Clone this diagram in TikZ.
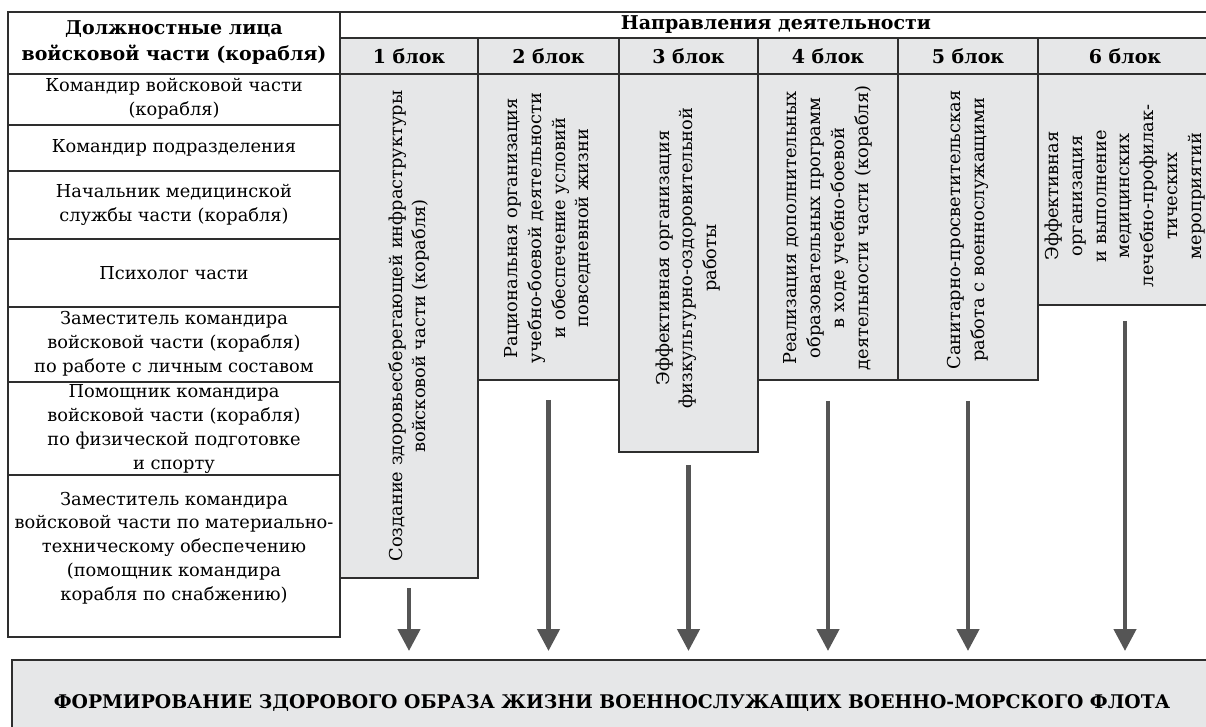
\documentclass[tikz,border=0pt]{standalone}
\usepackage{fontspec}
\setmainfont{DejaVu Serif}
\usetikzlibrary{arrows.meta}
\definecolor{boxgray}{HTML}{E6E7E8}
\definecolor{linegray}{HTML}{2E2E2E}
\definecolor{arrowgray}{HTML}{555555}

\begin{document}
\begin{tikzpicture}[x=0.5pt,y=-0.5pt,
	frame/.style={draw=linegray,line width=1pt},
	rowtext/.style={align=center,font=\fontsize{8.9}{11.9}\selectfont},
	headtext/.style={align=center,font=\fontsize{9.5}{13}\selectfont\bfseries},
	blocktext/.style={rotate=90,align=center,font=\fontsize{8.9}{11.9}\selectfont},
	flow/.style={draw=arrowgray,line width=2.2pt,-{Triangle[width=11pt,length=11pt]}},
]
	\useasboundingbox (0,0) rectangle (1206,727);

	% header
	\draw[frame] (8,12) -- (1212,12);
	\draw[frame] (340,38) -- (1212,38);
	\node[headtext] (who) at (174,43) {Должностные лица\\войсковой части (корабля)};
	\node[headtext] (dir) at (776,25) {Направления деятельности};

	% blocks
	\foreach \xa/\xb/\yb/\n in {340/478/578/1, 478/619/380/2, 619/758/452/3, 758/898/380/4, 898/1038/380/5, 1038/1212/305/6}{
		\draw[frame,fill=boxgray] (\xa,38) rectangle (\xb,\yb);
		\node[headtext] (h\n) at ({(\xa+\xb)/2},56) {\n\ блок};
		\coordinate (b\n) at ({(\xa+\xb)/2},\yb);
	}
	\draw[frame] (8,74) -- (1212,74);

	\node[blocktext] (t1) at (409,326) {Создание здоровьесберегающей инфраструктуры\\войсковой части (корабля)};
	\node[blocktext] (t2) at (548,228) {Рациональная организация\\учебно-боевой деятельности\\и обеспечение условий\\повседневной жизни};
	\node[blocktext] (t3) at (688,258) {Эффективная организация\\физкультурно-оздоровительной\\работы};
	\node[blocktext] (t4) at (828,228) {Реализация дополнительных\\образовательных программ\\в ходе учебно-боевой\\деятельности части (корабля)};
	\node[blocktext] (t5) at (968,230) {Санитарно-просветительская\\работа с военнослужащими};
	\node[blocktext] (t6) at (1125,196) {Эффективная\\организация\\и выполнение\\медицинских\\лечебно-профилак-\\тических\\мероприятий};

	% officials
	\draw[frame] (8,12) rectangle (340,637);
	\foreach \y in {74,125,171,239,307,382,475}
		\draw[frame] (8,\y) -- (340,\y);
	\node[rowtext] (r1) at (174,99) {Командир войсковой части\\(корабля)};
	\node[rowtext] (r2) at (174,148) {Командир подразделения};
	\node[rowtext] (r3) at (174,205) {Начальник медицинской\\службы части (корабля)};
	\node[rowtext] (r4) at (174,273) {Психолог части};
	\node[rowtext] (r5) at (174,344) {Заместитель командира\\войсковой части (корабля)\\по работе с личным составом};
	\node[rowtext] (r6) at (174,429) {Помощник командира\\войсковой части (корабля)\\по физической подготовке\\и спорту};
	\node[rowtext] (r7) at (174,548) {Заместитель командира\\войсковой части по материально-\\техническому обеспечению\\(помощник командира\\корабля по снабжению)};

	% result
	\node[frame,fill=boxgray,minimum width=600pt,minimum height=43pt,inner sep=0pt,
		font=\fontsize{9.4}{12}\selectfont\bfseries] (final) at (612,703)
		{ФОРМИРОВАНИЕ ЗДОРОВОГО ОБРАЗА ЖИЗНИ ВОЕННОСЛУЖАЩИХ ВОЕННО-МОРСКОГО ФЛОТА};

	\foreach \n/\gap in {1/5,2/10,3/6.5,4/10.5,5/10.5,6/8}
		\draw[flow,shorten <=\gap pt,shorten >=4pt] (b\n) -- (b\n |- final.north);
\end{tikzpicture}
\end{document}
